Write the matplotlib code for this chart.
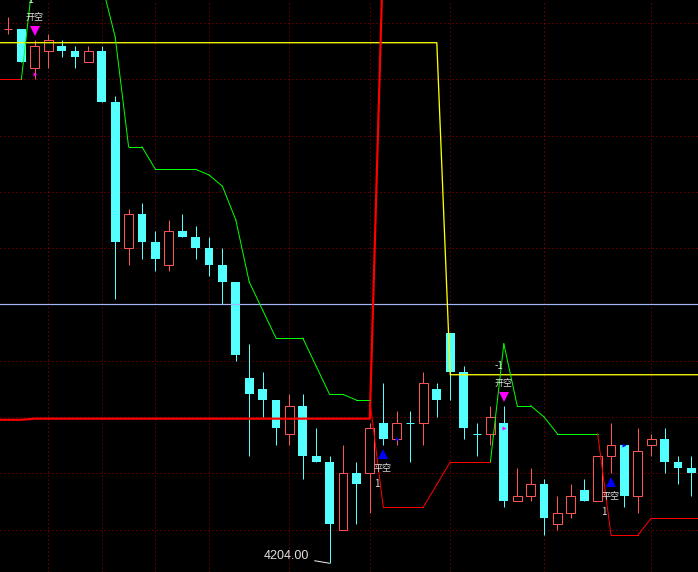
import matplotlib
matplotlib.use("Agg")
import matplotlib.pyplot as plt
import matplotlib.transforms as mtransforms
import numpy as np

plt.rcParams['font.family'] = ['Noto Sans CJK SC', 'DejaVu Sans']

# candles, bar 0 = first visible bar
opens = [4299, 4299, 4292, 4295, 4296, 4295, 4293, 4295, 4286, 4260,
         4266, 4261, 4257, 4263, 4262, 4260, 4257, 4254, 4237, 4235,
         4233, 4227, 4232, 4223, 4222, 4210, 4220, 4220, 4229, 4226,
         4229, 4229, 4235, 4245, 4238, 4227, 4227, 4229, 4215, 4216,
         4218, 4211, 4213, 4217, 4215, 4223, 4225, 4216, 4225, 4226,
         4222, 4221]
highs = [4301, 4299, 4297, 4298, 4297, 4296, 4296, 4296, 4287, 4267,
         4268, 4263, 4265, 4266, 4264, 4262, 4260, 4254, 4243, 4238,
         4233, 4234, 4234, 4228, 4223, 4225, 4222, 4229, 4236, 4231,
         4231, 4238, 4236, 4245, 4239, 4229, 4232, 4232, 4221, 4221,
         4219, 4216, 4218, 4219, 4223, 4229, 4225, 4228, 4227, 4228,
         4223, 4223]
lows = [4298, 4293, 4290, 4292, 4294, 4292, 4293, 4286, 4251, 4257,
        4258, 4256, 4256, 4262, 4258, 4255, 4250, 4240, 4223, 4230,
        4225, 4225, 4219, 4222, 4204, 4210, 4211, 4213, 4225, 4225,
        4222, 4225, 4230, 4233, 4226, 4223, 4225, 4214, 4215, 4215,
        4209, 4210, 4212, 4215, 4215, 4220, 4214, 4213, 4223, 4220,
        4218, 4216]
closes = [4299, 4293, 4296, 4297, 4295, 4294, 4295, 4286, 4261, 4266,
          4261, 4258, 4263, 4262, 4260, 4257, 4254, 4241, 4234, 4233,
          4228, 4232, 4223, 4222, 4211, 4220, 4218, 4228, 4226, 4229,
          4229, 4236, 4233, 4238, 4228, 4227, 4230, 4215, 4216, 4218,
          4212, 4213, 4216, 4215, 4223, 4225, 4216, 4224, 4226, 4222,
          4221, 4220]
prev_close = 4298

# indicator lines, these run from bar -1 to bar 52 (one past each edge)
stop_line = [4290, 4290, 4290, 4311, 4311, 4311, 4310, 4309, 4307, 4297.5,
             4278, 4278, 4274, 4274, 4274, 4274, 4273, 4271, 4265, 4254,
             4249, 4244, 4244, 4244, 4239, 4234, 4234, 4233, 4233, 4214,
             4214, 4214, 4214, 4218, 4222, 4222, 4222, 4222, 4243, 4232,
             4232, 4230, 4227, 4227, 4227, 4227, 4209, 4209, 4209, 4212,
             4212, 4212, 4212, 4212]
# 1 = long (red), -1 = short (green)
stop_side = [1, 1, 1] + [-1] * 26 + [1] * 9 + [-1] * 8 + [1] * 8
cost_line = [4229.5, 4229.5, 4229.5] + [4229.7] * 26 + [4313]
level_line = [4296.5] * 34 + [4237.5] * 20
base_level = 4250

# trade signals
open_short_bars = [2, 37]
close_short_bars = [28, 45]
short_fill_bars = [2, 37]
short_fill_prices = [4291, 4228]
cover_fill_bars = [29, 46]
cover_fill_prices = [4226, 4225]

grid_prices = list(range(4210, 4301, 10))
grid_bars = [3, 7, 11, 15, 21, 27, 33, 40, 48]

cyan = '#54ffff'
red = '#ff5454'
px = 0.72  # one pixel in points at dpi 100

fig = plt.figure(figsize=(6.98, 5.72), dpi=100, facecolor='black')
ax = fig.add_axes([0, 0, 1, 1])
ax.set_facecolor('black')
ax.set_xlim(-0.597, 51.49)
ax.set_ylim(4202.45, 4304.09)
ax.set_axis_off()

# dotted grid
for p in grid_prices:
    ax.axhline(p, color='#a00000', lw=px, ls=(0, (1, 3)), zorder=1)
for b in grid_bars:
    ax.axvline(b, color='#a00000', lw=px, ls=(0, (1, 3)), zorder=1)

# candles
w = 0.65
x = np.arange(len(opens))
last = prev_close
for i in x:
    o, h, l, c = opens[i], highs[i], lows[i], closes[i]
    if c < o:
        ax.vlines(i, l, h, color=cyan, lw=px, zorder=2)
        ax.bar(i, o - c, bottom=c, width=w, color=cyan, zorder=2)
    elif c > o:
        ax.vlines(i, c, h, color=red, lw=px, zorder=2)
        ax.vlines(i, l, o, color=red, lw=px, zorder=2)
        ax.bar(i, c - o, bottom=o, width=w, facecolor='black',
               edgecolor=red, linewidth=px, zorder=2)
    else:
        col = red if c > last else cyan
        ax.vlines(i, l, h, color=col, lw=px, zorder=2)
        ax.hlines(c, i - w / 2, i + w / 2, color=col, lw=px, zorder=2)
    last = c

# indicator lines
xl = np.arange(-1, len(opens) + 1)
ax.axhline(base_level, color='#a4b4f4', lw=1.2 * px, zorder=3)
ax.plot(xl, level_line, color='#ffff00', lw=1.3 * px, zorder=3)
ax.plot(xl[:len(cost_line)], cost_line, color='#ff0000', lw=2.2 * px, zorder=3)
for k in range(1, len(stop_line)):
    col = '#ff0000' if stop_side[k] > 0 else '#00ff00'
    ax.plot(xl[k - 1:k + 1], stop_line[k - 1:k + 1], color=col, lw=px, zorder=4)

# signal markers
up = mtransforms.offset_copy(ax.transData, fig=fig, x=0, y=8.5 * px, units='points')
down = mtransforms.offset_copy(ax.transData, fig=fig, x=0, y=-9 * px, units='points')
hi = [highs[b] for b in open_short_bars]
lo = [lows[b] for b in close_short_bars]
ax.plot(open_short_bars, hi, 'v', color='#ff00ff', ms=10 * px, mew=0,
        transform=up, zorder=5)
ax.plot(close_short_bars, lo, '^', color='#0000ff', ms=10 * px, mew=0,
        transform=down, zorder=5)
ax.plot(short_fill_bars, short_fill_prices, '>', color='#ff00ff', ms=4 * px,
        mew=0, zorder=5)
ax.plot(cover_fill_bars, cover_fill_prices, '>', color='#0000ff', ms=4 * px,
        mew=0, zorder=5)

txt = '#e0e0e0'
for b in open_short_bars:
    ax.annotate('开空', (b, highs[b]), xytext=(-9.5 * px, 22 * px),
                textcoords='offset points', ha='left', va='center',
                color=txt, fontsize=6.5, zorder=6)
    ax.annotate('-1', (b, highs[b]), xytext=(-9.5 * px, 39.5 * px),
                textcoords='offset points', ha='left', va='center',
                color=txt, fontsize=7, zorder=6)
for b in close_short_bars:
    ax.annotate('平空', (b, lows[b]), xytext=(-9.5 * px, -23 * px),
                textcoords='offset points', ha='left', va='center',
                color=txt, fontsize=6.5, zorder=6)
    ax.annotate('1', (b, lows[b]), xytext=(-9.5 * px, -39 * px),
                textcoords='offset points', ha='left', va='center',
                color=txt, fontsize=7, zorder=6)

# lowest price label
lo_i = int(np.argmin(lows))
ax.annotate(f'{lows[lo_i]:.2f}', (lo_i, lows[lo_i]), xytext=(-20.5 * px, 7.3 * px),
            textcoords='offset points', ha='right', va='center',
            color=txt, fontsize=9, family=['Liberation Sans', 'DejaVu Sans'],
            arrowprops=dict(arrowstyle='-', color='#f0f0f0', lw=px,
                            shrinkA=2, shrinkB=0), zorder=6)

fig.savefig('out.png', dpi=100, facecolor='black')
